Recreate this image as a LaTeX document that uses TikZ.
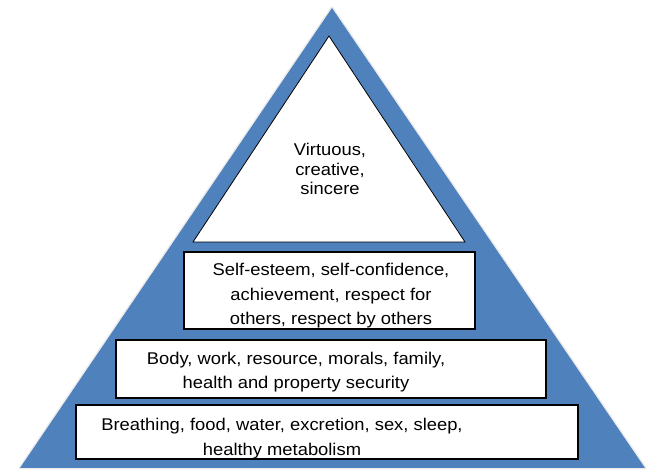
\documentclass[tikz,border=0pt]{standalone}
\usepackage{fontspec}
\setmainfont{Liberation Sans}[FakeStretch=1.08]
\usepackage{tikz}

\definecolor{pyrblue}{RGB}{79,129,189}

\begin{document}
\begin{tikzpicture}[
                    x=1pt, y=-1pt,
                    tier/.style={
                        draw=black,
                        line width=1.6pt,
                        fill=white,
                        rectangle,
                        inner sep=0pt
                    },
                    tiertext/.style={
                        align=center,
                        inner sep=0pt,
                        font=\fontsize{17}{24.5}\selectfont
                    }
                ]
                    \useasboundingbox (0,0) rectangle (657,473);

                    % Pyramid
                    \coordinate (apex) at (332,8);
                    \coordinate (bl) at (20,468);
                    \coordinate (br) at (645,468);
                    \draw[black!8, line width=3pt, line join=round] (apex) -- (bl) -- (br) -- cycle;
                    \fill[pyrblue] (apex) -- (bl) -- (br) -- cycle;

                    % Top level
                    \coordinate (tip) at (329,36);
                    \coordinate (tl) at (193,242);
                    \coordinate (tr) at (465,242);
                    \draw[fill=white, line width=0.8pt, line join=miter] (tip) -- (tl) -- (tr) -- cycle;
                    \node[tiertext, font=\fontsize{17}{19.5}\selectfont] (virtue) at (330,169) {Virtuous,\\creative,\\sincere};

                    % Levels
                    \node[tier, minimum width=291pt, minimum height=77pt] (esteem) at (329.5,290.5) {};
                    \node[tier, minimum width=430pt, minimum height=58pt] (safety) at (331,369) {};
                    \node[tier, minimum width=502pt, minimum height=54pt] (basic) at (327,432) {};

                    \node[tiertext] (esteemtext) at (331,296) {Self-esteem, self-confidence,\\achievement, respect for\\others, respect by others};
                    \node[tiertext] (safetytext) at (296,372) {Body, work, resource, morals, family,\\health and property security};
                    \node[tiertext] (basictext) at (282,438.5) {Breathing, food, water, excretion, sex, sleep,\\healthy metabolism};
                \end{tikzpicture}
\end{document}
